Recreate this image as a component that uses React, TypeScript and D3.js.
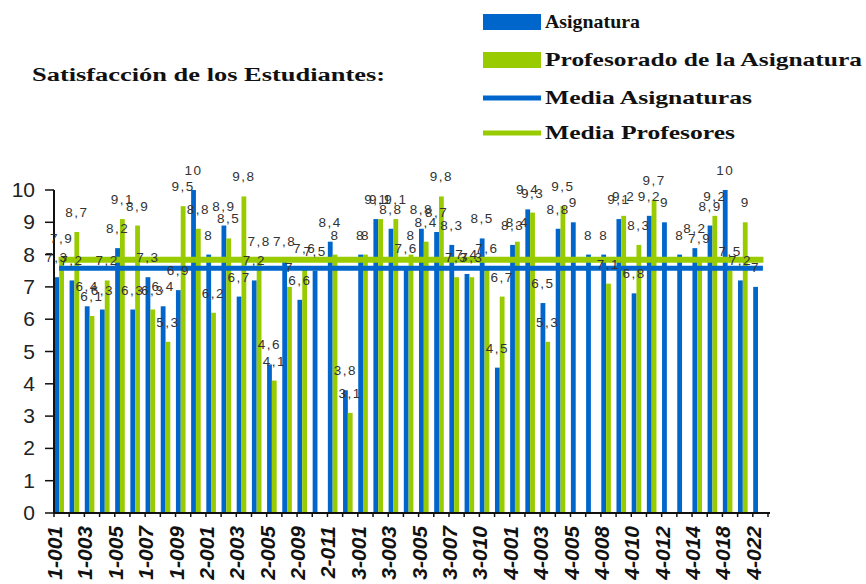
import React from 'react';
import * as d3 from 'd3';

// categories (asignaturas), only every other one gets a label on the axis
const categories = [
  '1-001', '1-002', '1-003', '1-004', '1-005', '1-006', '1-007', '1-008', '1-009', '1-010',
  '2-001', '2-002', '2-003', '2-004', '2-005', '2-007', '2-009', '2-010', '2-011', '2-012',
  '3-001', '3-002', '3-003', '3-004', '3-005', '3-006', '3-007', '3-008', '3-010', '3-011',
  '4-001', '4-002', '4-003', '4-004', '4-005', '4-006', '4-008', '4-009', '4-010', '4-011',
  '4-012', '4-013', '4-014', '4-016', '4-018', '4-020', '4-022',
];

const asignatura = [
  7.3, 7.2, 6.4, 6.3, 8.2, 6.3, 7.3, 6.4, 6.9, 10,
  8, 8.9, 6.7, 7.2, 4.6, 7.8, 6.6, 7.5, 8.4, 3.8,
  8, 9.1, 8.8, 7.6, 8.8, 8.7, 8.3, 7.4, 8.5, 4.5,
  8.3, 9.4, 6.5, 8.8, 9, 8, 8, 9.1, 6.8, 9.2,
  9, 8, 8.2, 8.9, 10, 7.2, 7,
];

const profesorado = [
  7.9, 8.7, 6.1, 7.2, 9.1, 8.9, 6.3, 5.3, 9.5, 8.8,
  6.2, 8.5, 9.8, 7.8, 4.1, 7, 7.6, null, 8, 3.1,
  8, 9.1, 9.1, 8, 8.4, 9.8, 7.3, 7.3, 7.6, 6.7,
  8.4, 9.3, 5.3, 9.5, null, null, 7.1, 9.2, 8.3, 9.7,
  null, null, 7.9, 9.2, 7.5, 9, null,
];

const mediaAsignaturas = 7.58;
const mediaProfesores = 7.84;

const yTicks = [0, 1, 2, 3, 4, 5, 6, 7, 8, 9, 10];

const BLUE = '#0066cc';
const GREEN = '#99cc00';

const fmt = (v: number) => String(v).replace('.', ',');

export default function App() {
  const width = 866;
  const height = 584;

  const x = d3.scaleBand<string>().domain(categories).range([54, 768]).padding(0);
  const inner = d3.scaleBand<string>().domain(['a', 'p']).range([0.4, 10]);
  const y = d3.scaleLinear().domain([0, 10]).range([513, 190]);

  const first = categories[0];
  const last = categories[categories.length - 1];
  const line = d3.line<[number, number]>().x(d => d[0]).y(d => y(d[1]));
  const cx = (c: string) => (x(c) ?? 0) + x.bandwidth() / 2;

  const series = [
    { key: 'a', values: asignatura, color: BLUE },
    { key: 'p', values: profesorado, color: GREEN },
  ];

  const legend = [
    { label: 'Asignatura', type: 'rect', color: BLUE, y: 22, w: 95 },
    { label: 'Profesorado de la Asignatura', type: 'rect', color: GREEN, y: 60, w: 317 },
    { label: 'Media Asignaturas', type: 'line', color: BLUE, y: 98, w: 207 },
    { label: 'Media Profesores', type: 'line', color: GREEN, y: 133, w: 190 },
  ];

  return (
    <svg width={width} height={height} style={{ position: 'absolute', left: 0, top: 0, background: '#fff' }}>
      <text x={32} y={81} fontFamily="Liberation Serif" fontWeight="bold" fontSize={18}
        textLength={353} lengthAdjust="spacingAndGlyphs" fill="#111">
        Satisfacción de los Estudiantes:
      </text>

      {legend.map(l => (
        <g key={l.label}>
          {l.type === 'rect'
            ? <rect x={483} y={l.y - 8} width={58} height={16} fill={l.color} />
            : <line x1={483} x2={541} y1={l.y} y2={l.y} stroke={l.color} strokeWidth={5} />}
          <text x={545} y={l.y + 6} fontFamily="Liberation Serif" fontWeight="bold" fontSize={19}
            textLength={l.w} lengthAdjust="spacingAndGlyphs" fill="#111">{l.label}</text>
        </g>
      ))}

      {/* bars */}
      {series.map(s => s.values.map((v, i) => v == null ? null : (
        <rect key={s.key + i}
          x={(x(categories[i]) ?? 0) + (inner(s.key) ?? 0)}
          y={y(v)}
          width={inner.bandwidth()}
          height={y(0) - y(v)}
          fill={s.color} />
      )))}

      {/* mean lines */}
      <path d={line([[cx(first), mediaAsignaturas], [cx(last), mediaAsignaturas]]) ?? ''}
        stroke={BLUE} strokeWidth={5} fill="none" strokeLinecap="square" />
      <path d={line([[cx(first), mediaProfesores], [cx(last), mediaProfesores]]) ?? ''}
        stroke={GREEN} strokeWidth={6} fill="none" strokeLinecap="square" />

      {/* y axis */}
      <line x1={54} x2={54} y1={y(10)} y2={y(0)} stroke="#111" strokeWidth={2} />
      {yTicks.map(t => (
        <g key={t}>
          <line x1={45} x2={54} y1={y(t)} y2={y(t)} stroke="#111" strokeWidth={1.5} />
          <text x={35} y={y(t) + 7} textAnchor="end" fontFamily="Liberation Sans" fontSize={21} fill="#222">{t}</text>
        </g>
      ))}

      {/* x axis */}
      <line x1={54} x2={770} y1={y(0)} y2={y(0)} stroke="#111" strokeWidth={2} />
      {categories.map(c => (
        <line key={c} x1={x(c)} x2={x(c)} y1={y(0)} y2={y(0) + 4} stroke="#111" strokeWidth={1.5} />
      ))}
      <line x1={768} x2={768} y1={y(0)} y2={y(0) + 4} stroke="#111" strokeWidth={1.5} />
      {categories.map((c, i) => i % 2 !== 0 ? null : (
        <text key={c} transform={`translate(${(x(c) ?? 0) + 8},526) rotate(-90)`}
          textAnchor="end" fontFamily="Liberation Sans" fontWeight="bold" fontStyle="italic"
          fontSize={21} fill="#111">{c}</text>
      ))}

      {/* value labels */}
      {series.map(s => s.values.map((v, i) => v == null ? null : (
        <text key={'l' + s.key + i}
          x={(x(categories[i]) ?? 0) + (inner(s.key) ?? 0) + inner.bandwidth() / 2}
          y={y(v) - 15}
          textAnchor="middle" fontFamily="Liberation Sans" fontSize={13.5} letterSpacing={1.5}
          fill="#333">{fmt(v)}</text>
      )))}
    </svg>
  );
}
